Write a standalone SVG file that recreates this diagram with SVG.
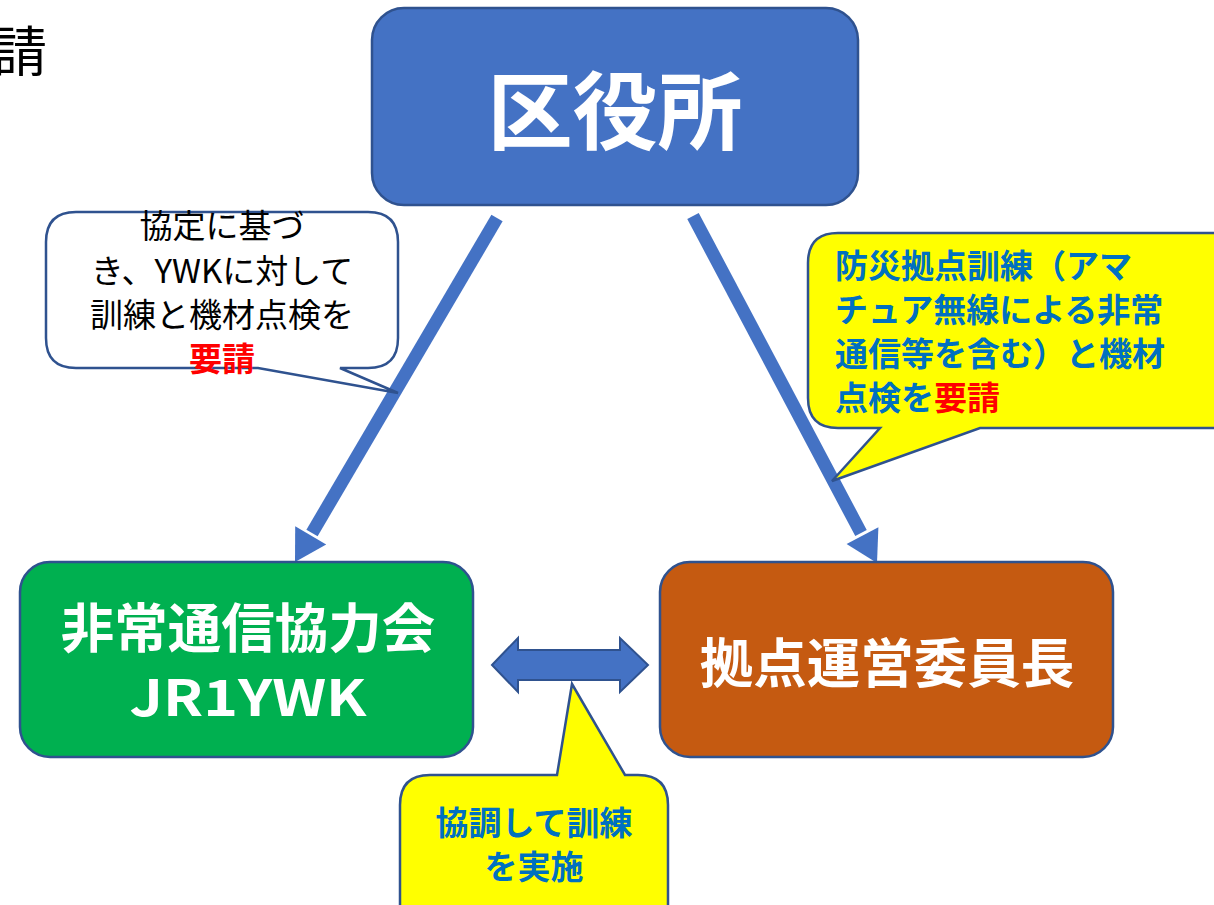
<svg xmlns="http://www.w3.org/2000/svg" width="1214" height="905" viewBox="0 0 1214 905">
<defs>
<style>
.jp{font-family:"Noto Sans CJK JP","Noto Sans",sans-serif}
.b{font-weight:bold}
.box{stroke:#2F528F;stroke-width:2.5}
.w{fill:#FFFFFF}
.blue{fill:#0070C0}
.red{fill:#FF0000}
.conn{stroke:#4472C4;stroke-width:13;fill:none}
.head{fill:#4472C4}
</style>
</defs>
<rect width="1214" height="905" fill="#FFFFFF"/>
<text x="47" y="72" text-anchor="end" class="jp" font-size="54" fill="#000">請</text>

<g id="connectors">
<line class="conn" x1="497" y1="218" x2="312" y2="533"/>
<polygon class="head" points="295,562 326.2,544.4 295.2,526.2"/>
<line class="conn" x1="693" y1="216" x2="861" y2="533"/>
<polygon class="head" points="877,563 878.4,527.2 846.6,544"/>
<path d="M492,665 L518,638 L518,650 L620,650 L620,638 L648,665 L620,692 L620,680 L518,680 L518,692 Z" fill="#4472C4" stroke="#2F528F" stroke-width="2"/>
</g>

<g id="kuyakusho">
<rect class="box" x="372" y="8" width="486" height="197" rx="32" fill="#4472C4"/>
<text x="615" y="143" text-anchor="middle" class="jp b w" font-size="85">区役所</text>
</g>

<g id="hijo">
<rect class="box" x="20" y="562" width="453" height="195" rx="30" fill="#00B050"/>
<text x="248" y="648" text-anchor="middle" class="jp b w" font-size="53.5">非常通信協力会</text>
<text x="248" y="716" text-anchor="middle" class="jp b w" font-size="50" textLength="237" lengthAdjust="spacingAndGlyphs">JR1YWK</text>
</g>

<g id="kyoten">
<rect class="box" x="660" y="562" width="453" height="195" rx="30" fill="#C55A11"/>
<text x="887" y="683" text-anchor="middle" class="jp b w" font-size="53.5">拠点運営委員長</text>
</g>

<g id="callout-left">
<path class="box" d="M76,212 L368,212 Q398,212 398,242 L398,338 Q398,368 368,368 L340,368 L398,393 L258,368 L76,368 Q46,368 46,338 L46,242 Q46,212 76,212 Z" fill="#FFFFFF"/>
<text x="222" y="238" text-anchor="middle" class="jp" font-size="33" fill="#000">協定に基づ</text>
<text x="222" y="283" text-anchor="middle" class="jp" font-size="33" fill="#000">き、YWKに対して</text>
<text x="222" y="327" text-anchor="middle" class="jp" font-size="33" fill="#000">訓練と機材点検を</text>
<text x="222" y="371" text-anchor="middle" class="jp b red" font-size="33">要請</text>
</g>

<g id="callout-right">
<path class="box" d="M838,233 L1214,233 L1230,233 L1230,428 L980,428 L832,481 L880,428 L838,428 Q808,428 808,398 L808,263 Q808,233 838,233 Z" fill="#FFFF00"/>
<text x="835" y="278" class="jp b blue" font-size="33">防災拠点訓練（アマ</text>
<text x="835" y="322" class="jp b blue" font-size="33">チュア無線による非常</text>
<text x="835" y="366" class="jp b blue" font-size="33">通信等を含む）と機材</text>
<text x="835" y="410" class="jp b blue" font-size="33">点検を<tspan class="red">要請</tspan></text>
</g>

<g id="callout-bottom">
<path class="box" d="M430,775 L557,775 L572,684 L625,775 L638,775 Q668,775 668,805 L668,920 L400,920 L400,805 Q400,775 430,775 Z" fill="#FFFF00"/>
<text x="534" y="835" text-anchor="middle" class="jp b blue" font-size="33">協調して訓練</text>
<text x="534" y="879" text-anchor="middle" class="jp b blue" font-size="33">を実施</text>
</g>
</svg>
